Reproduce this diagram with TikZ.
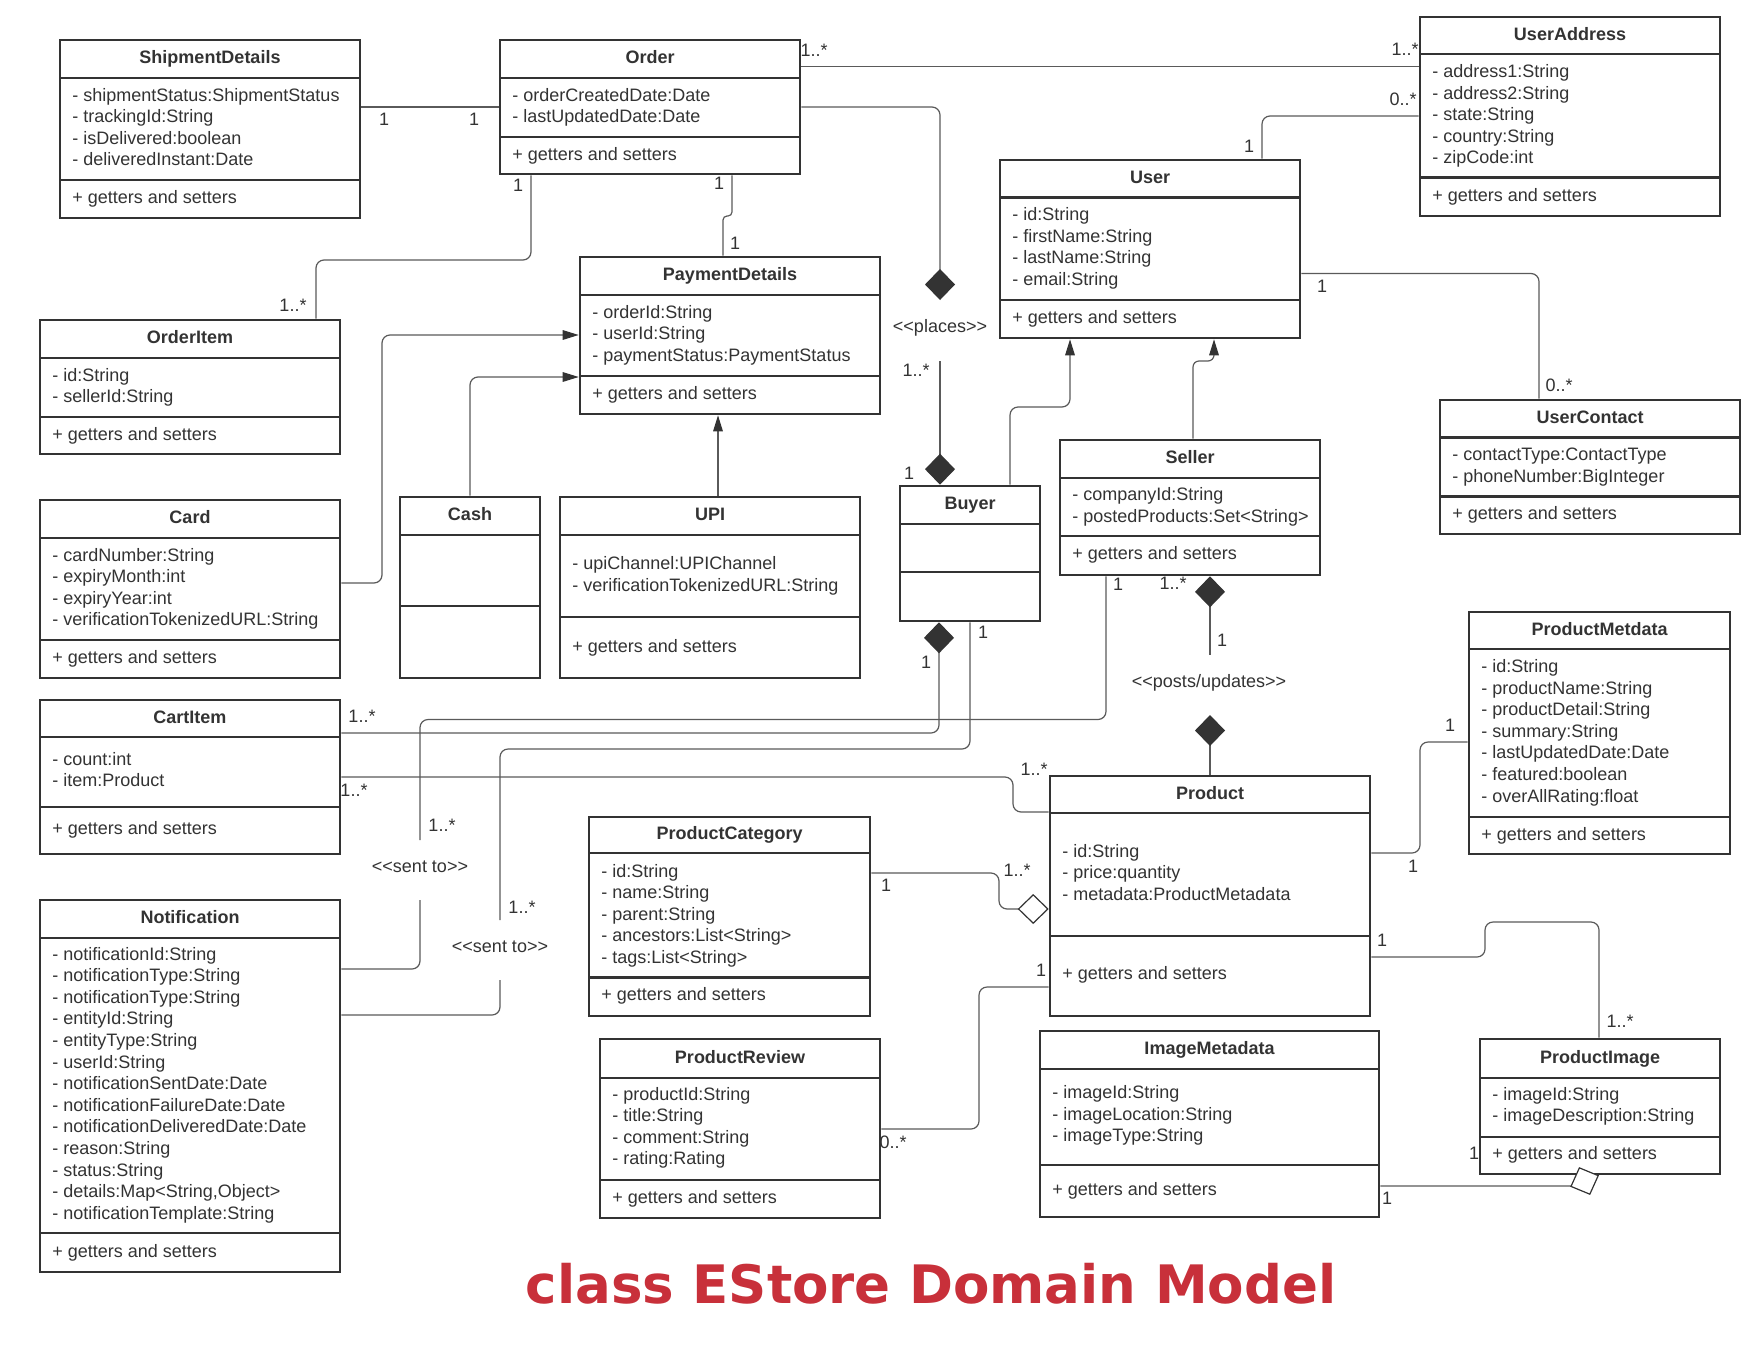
\documentclass[tikz,border=0pt]{standalone}
\usepackage{fontspec}
\setmainfont{Liberation Sans}[Ligatures=TeXOff]
\newfontfamily\titlefont{DejaVu Sans}
\usetikzlibrary{arrows.meta,fit,positioning}
\definecolor{umlline}{HTML}{333333}
\definecolor{wirecol}{HTML}{5A5A5A}
\definecolor{titlered}{HTML}{C8303A}

\newcommand{\umlclass}[8]{%
	\node[classbox, fit={(#2,#3) (#4,#5)}] (#1) {};
	\draw[divider] (#2,#6) -- (#4,#6);
	\draw[divider] (#2,#7) -- (#4,#7);
	\node[classtitle] (#1-title) at ({(#2+#4)/2},{(#3+#6)/2+4.5}) {#8};
}
\newcommand{\umlattrs}[4]{%
	\foreach \txt [count=\k] in {#4}
		\node[attrtext] (#1-\k) at (#2,{#3+(\k-1)*21.6}) {\txt};
}
\newcommand{\umlops}[3]{%
	\node[attrtext] (#1-ops) at (#2,#3) {+ getters and setters};
}

\begin{document}
\begin{tikzpicture}[x=0.5pt, y=-0.5pt,
		classbox/.style={draw=umlline, line width=1.3pt, inner sep=0pt},
		divider/.style={draw=umlline, line width=1.3pt},
		classtitle/.style={font=\fontsize{9}{11}\selectfont\bfseries, text=umlline, anchor=base, inner sep=0pt},
		attrtext/.style={font=\fontsize{9}{11}\selectfont, text=umlline, anchor=base west, inner sep=0pt},
		mult/.style={font=\fontsize{9}{11}\selectfont, text=umlline, inner sep=0pt},
		wire/.style={draw=wirecol, line width=0.6pt, rounded corners=4pt},
		inherit/.style={wire, -{Triangle[length=8pt, width=4.8pt, color=umlline]}},
		compose/.style={wire, -{Diamond[length=15.5pt, width=15pt, color=umlline]}},
		composefrom/.style={wire, {Diamond[length=15.5pt, width=15pt, color=umlline]}-},
		aggregate/.style={wire, -{Diamond[open, length=15.5pt, width=15pt, color=umlline, fill=white]}}]
	\fill[white] (0,0) rectangle (1760,1360);
	\useasboundingbox (0,0) rectangle (1760,1360);

	\umlclass{shipd}{60}{40}{360}{218}{78}{180}{ShipmentDetails}
	\umlattrs{shipd}{72}{101}{- shipmentStatus:ShipmentStatus, - trackingId:String, - isDelivered:boolean, - deliveredInstant:Date}
	\umlops{shipd}{72}{203}

	\umlclass{order}{500}{40}{800}{174}{78}{137}{Order}
	\umlattrs{order}{512}{101}{- orderCreatedDate:Date, - lastUpdatedDate:Date}
	\umlops{order}{512}{160}

	\umlclass{orderitem}{40}{320}{340}{454}{358}{417}{OrderItem}
	\umlattrs{orderitem}{52}{381}{- id:String, - sellerId:String}
	\umlops{orderitem}{52}{440}

	\umlclass{payment}{580}{257}{880}{414}{295}{376}{PaymentDetails}
	\umlattrs{payment}{592}{318}{- orderId:String, - userId:String, - paymentStatus:PaymentStatus}
	\umlops{payment}{592}{399}

	\umlclass{card}{40}{500}{340}{678}{538}{640}{Card}
	\umlattrs{card}{52}{561}{- cardNumber:String, - expiryMonth:int, - expiryYear:int, - verificationTokenizedURL:String}
	\umlops{card}{52}{663}

	\umlclass{cash}{400}{497}{540}{678}{535}{606}{Cash}

	\umlclass{upi}{560}{497}{860}{678}{535}{617}{UPI}
	\umlattrs{upi}{572}{569.5}{- upiChannel:UPIChannel, - verificationTokenizedURL:String}
	\umlops{upi}{572}{652}

	\umlclass{cart}{40}{700}{340}{854}{737}{807}{CartItem}
	\umlattrs{cart}{52}{765}{- count:int, - item:Product}
	\umlops{cart}{52}{834}

	\umlclass{notif}{40}{900}{340}{1272}{938}{1233}{Notification}
	\umlattrs{notif}{52}{960}{- notificationId:String, - notificationType:String, - notificationType:String, - entityId:String, - entityType:String, - userId:String, - notificationSentDate:Date, - notificationFailureDate:Date, - notificationDeliveredDate:Date, - reason:String, - status:String, {- details:Map<String,Object>}, - notificationTemplate:String}
	\umlops{notif}{52}{1257}

	\umlclass{useraddr}{1420}{17}{1720}{216}{54}{177.5}{UserAddress}
	\umlattrs{useraddr}{1432}{77.5}{- address1:String, - address2:String, - state:String, - country:String, - zipCode:int}
	\umlops{useraddr}{1432}{201}

	\umlclass{user}{1000}{160}{1300}{338}{197.5}{300}{User}
	\umlattrs{user}{1012}{220.5}{- id:String, - firstName:String, - lastName:String, - email:String}
	\umlops{user}{1012}{323}

	\umlclass{buyer}{900}{486}{1040}{621}{524}{572}{Buyer}

	\umlclass{seller}{1060}{440}{1320}{575}{478}{536}{Seller}
	\umlattrs{seller}{1072}{500.5}{- companyId:String, - postedProducts:Set<String>}
	\umlops{seller}{1072}{559}

	\umlclass{contact}{1440}{400}{1740}{534}{437.5}{496.5}{UserContact}
	\umlattrs{contact}{1452}{460.5}{- contactType:ContactType, - phoneNumber:BigInteger}
	\umlops{contact}{1452}{519.5}

	\umlclass{metadata}{1469}{612}{1730}{854}{649}{817}{ProductMetdata}
	\umlattrs{metadata}{1481}{672.5}{- id:String, - productName:String, - productDetail:String, - summary:String, - lastUpdatedDate:Date, - featured:boolean, - overAllRating:float}
	\umlops{metadata}{1481}{840}

	\umlclass{product}{1050}{776}{1370}{1016}{813}{936}{Product}
	\umlattrs{product}{1062}{857}{- id:String, - price:quantity, - metadata:ProductMetadata}
	\umlops{product}{1062}{979}

	\umlclass{category}{589}{817}{870}{1016}{853}{977.5}{ProductCategory}
	\umlattrs{category}{601}{877}{- id:String, - name:String, - parent:String, - ancestors:List<String>, - tags:List<String>}
	\umlops{category}{601}{1000.5}

	\umlclass{review}{600}{1039}{880}{1218}{1078}{1180}{ProductReview}
	\umlattrs{review}{612}{1100}{- productId:String, - title:String, - comment:String, - rating:Rating}
	\umlops{review}{612}{1203}

	\umlclass{imgmeta}{1040}{1031}{1379}{1217}{1069}{1165}{ImageMetadata}
	\umlattrs{imgmeta}{1052}{1098.5}{- imageId:String, - imageLocation:String, - imageType:String}
	\umlops{imgmeta}{1052}{1195}

	\umlclass{image}{1480}{1039}{1720}{1174}{1078}{1137}{ProductImage}
	\umlattrs{image}{1492}{1100}{- imageId:String, - imageDescription:String}
	\umlops{image}{1492}{1159}

	\node[mult] (places) at (940,328) {<<places>>};
	\node[mult] (sentseller) at (420,867) {<<sent to>>};
	\node[mult] (sentbuyer) at (500,947) {<<sent to>>};
	\node[mult] (posts) at (1209,683) {<<posts/updates>>};

	\coordinate (placesend) at (940,300);
	\coordinate (placesstart) at (940,361);
	\coordinate (sentaend) at (420,840);
	\coordinate (sentastart) at (420,900);
	\coordinate (sentbend) at (500,920);
	\coordinate (sentbstart) at (500,980);

	\draw[wire] (order.west -| shipd.east) -- (order.west);
	\draw[wire] (order.east |- 0,66.5) -- (useraddr.west |- 0,66.5);
	\draw[compose] (order.east) -| (placesend);
	\draw[compose] (placesstart) -- (placesstart |- buyer.north);
	\draw[wire] (1262,0 |- user.north) |- (useraddr.west |- 0,116);
	\draw[wire] (531,0 |- order.south) |- (316,260) -- (316,0 |- orderitem.north);
	\draw[wire, rounded corners=2pt] (732,0 |- order.south) |- (723,216) -- (723,0 |- payment.north);
	\draw[inherit] (card.east |- 0,583) -| (382,335) -- (payment.west |- 0,335);
	\draw[inherit] (470,0 |- cash.north) |- (payment.west |- 0,377);
	\draw[inherit] (718,0 |- upi.north) -- (718,0 |- payment.south);
	\draw[inherit] (1010,0 |- buyer.north) |- (1070,407) -- (1070,0 |- user.south);
	\draw[inherit, rounded corners=3pt] (1193,0 |- seller.north) |- (1214,361) -- (1214,0 |- user.south);
	\draw[wire] (user.east |- 0,273.5) -| (1539,0 |- contact.north);
	\draw[composefrom] (939,0 |- buyer.south) |- (cart.east |- 0,733);
	\draw[wire] (970,0 |- buyer.south) |- (500,749) -- (sentbend);
	\draw[wire] (sentbstart) |- (notif.east |- 0,1015);
	\draw[wire] (1106,0 |- seller.south) |- (420,719.5) -- (sentaend);
	\draw[wire] (sentastart) |- (notif.east |- 0,969);
	\draw[composefrom] (product.north |- seller.south) -- (product.north |- 0,655);
	\draw[composefrom] (product.north |- 0,715) -- (product.north);
	\draw[wire] (cart.east |- 0,777) -| (1013,812) -- (product.west |- 0,812);
	\draw[aggregate] (category.east |- 0,873) -| (999,909) -- (product.west |- 0,909);
	\draw[wire] (product.east |- 0,853) -| (1420,742) -- (metadata.west |- 0,742);
	\draw[wire] (product.east |- 0,957) -| (1485,922) -| (1599,0 |- image.north);
	\draw[wire] (review.east |- 0,1129) -| (979,987) -- (product.west |- 0,987);
	\draw[aggregate, rounded corners=0pt] (imgmeta.east |- 0,1186) -- (1572,1186) -- (1599,0 |- image.south);

	\foreach \x/\y/\t [count=\k] in {384/119/1, 474/119/1, 814/50/{1..*}, 1405/49/{1..*}, 1403/99/{0..*}, 1249/146/1, 518/185/1, 719/183/1, 735/243/1, 293/305/{1..*}, 916/370/{1..*}, 909/473/1, 1322/286/1, 1559/385/{0..*}, 362/716/{1..*}, 926/662/1, 983/632/1, 1118/584/1, 1173/583/{1..*}, 1222/640/1, 354/790/{1..*}, 1034/769/{1..*}, 442/825/{1..*}, 522/907/{1..*}, 886/885/1, 1017/870/{1..*}, 1413/866/1, 1450/725/1, 1382/940/1, 1620/1021/{1..*}, 893/1142/{0..*}, 1041/970/1, 1387/1198/1, 1474/1153/1}
		\node[mult] (mult\k) at (\x,\y) {\t};

	\node[font=\titlefont\bfseries\fontsize{26.5}{26.5}\selectfont, text=titlered, inner sep=0pt] (diagramtitle) at (931,1284) {class EStore Domain Model};
\end{tikzpicture}
\end{document}
